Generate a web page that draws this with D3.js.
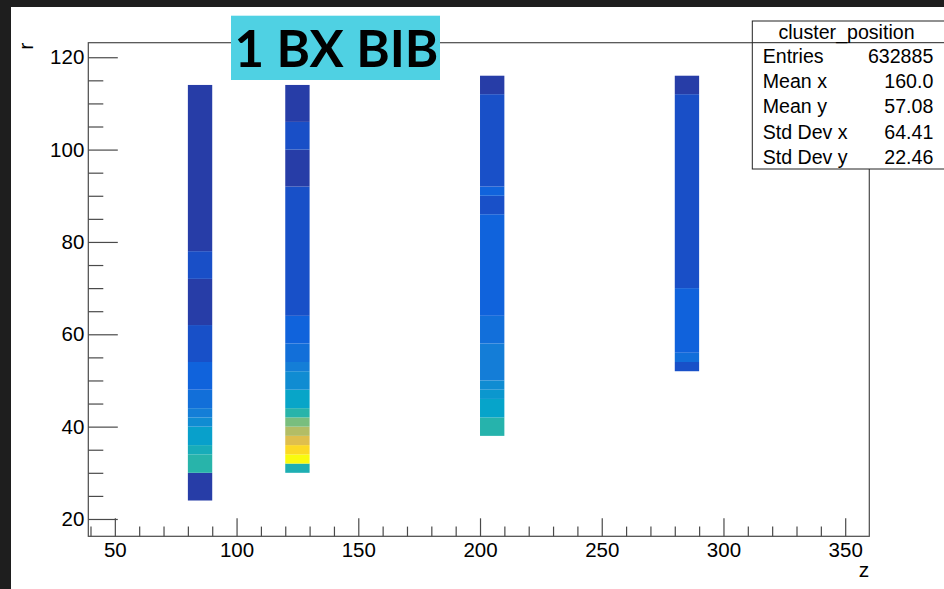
<!DOCTYPE html>
<html>
<head>
<meta charset="utf-8">
<script src="https://cdn.jsdelivr.net/npm/d3@7"></script>
<style>
  html, body { margin: 0; padding: 0; background: #ffffff; }
  svg { display: block; }
  .tick text { font-family: "Liberation Sans", Arial, Helvetica, sans-serif; }
</style>
</head>
<body>
<svg id="chart" width="944" height="589"></svg>
<script>
// ---- histogram content: cluster_position (r vs z), 10 x 2 bins ----
const zLowEdges = [80, 120, 200, 280];      // lower z edge of each filled column
const zBinWidth = 10;

// r bin edges and the count per 2-unit r bin inside each run
const rEdgesCol1 = [24, 30, 34, 36, 40, 42, 44, 48, 54, 62, 72, 78, 114];
const countsCol1 = [1850, 19200, 17200, 14400, 11600, 9600, 7600, 6000, 3760, 1850, 3700, 1850];

const rEdgesCol2 = [30, 32, 34, 36, 38, 40, 42, 44, 48, 52, 54, 58, 64, 92, 100, 106, 114];
const countsCol2 = [18000, 40000, 36800, 31600, 28000, 24200, 19200, 15200, 11600, 9600, 7600, 6000, 3760, 1850, 3700, 1850];

const rEdgesCol3 = [38, 42, 46, 48, 50, 58, 64, 86, 90, 92, 112, 116];
const countsCol3 = [19000, 15000, 13200, 11500, 9500, 7500, 5900, 3750, 6000, 3750, 1850];

const rEdgesCol4 = [52, 54, 56, 70, 112, 116];
const countsCol4 = [3800, 7400, 5800, 3700, 1850];

const zMajorTicks = [50, 100, 150, 200, 250, 300, 350];
const rMajorTicks = [20, 40, 60, 80, 100, 120];

const histTitle = "cluster_position";
const statsLabels = ["Entries", "Mean x", "Mean y", "Std Dev x", "Std Dev y"];
const statsValues = ["632885", "160.0", "57.08", "64.41", "22.46"];
const bannerText = "1 BX BIB";

// ---- assemble cells ----
const columns = [
  { edges: rEdgesCol1, counts: countsCol1 },
  { edges: rEdgesCol2, counts: countsCol2 },
  { edges: rEdgesCol3, counts: countsCol3 },
  { edges: rEdgesCol4, counts: countsCol4 }
];
const cells = [];
columns.forEach((col, i) => {
  col.counts.forEach((c, j) => {
    cells.push({ z0: zLowEdges[i], z1: zLowEdges[i] + zBinWidth, r0: col.edges[j], r1: col.edges[j + 1], count: c });
  });
});

// ---- layout ----
const svg = d3.select("#chart");
const W = 944, H = 589;
const frame = { left: 88.3, right: 869.3, top: 42.7, bottom: 536.3 };

const x = d3.scaleLinear().domain([39.1, 359.9]).range([frame.left, frame.right]);
const y = d3.scaleLinear().domain([16.25, 123.15]).range([frame.bottom, frame.top]);

// kBird palette
const birdStops = ["#352a87", "#0f5cdd", "#1481d6", "#06a4ca", "#2eb7a4", "#87bf77", "#d1bb59", "#fec832", "#f9fb0e"];
const zMax = d3.max(cells, d => d.count);
const color = d3.scaleLinear()
  .domain(birdStops.map((_, i) => i / (birdStops.length - 1) * zMax))
  .range(birdStops)
  .interpolate(d3.interpolateRgb)
  .clamp(true);

svg.append("rect").attr("width", W).attr("height", H).attr("fill", "#ffffff");

// cells
svg.append("g").selectAll("rect").data(cells).join("rect")
  .attr("x", d => x(d.z0))
  .attr("width", d => x(d.z1) - x(d.z0))
  .attr("y", d => y(d.r1))
  .attr("height", d => y(d.r0) - y(d.r1))
  .attr("fill", d => color(d.count));

// frame
svg.append("rect")
  .attr("x", frame.left).attr("y", frame.top)
  .attr("width", frame.right - frame.left).attr("height", frame.bottom - frame.top)
  .attr("fill", "none").attr("stroke", "#4a4a4a").attr("stroke-width", 1.2);

// minor tick values
const zMinor = d3.range(40, 360, 10).filter(v => v % 50 !== 0);
const rMinor = d3.range(20, 124, 5).filter(v => v % 20 !== 0);

const fontFam = '"Liberation Sans", Arial, Helvetica, sans-serif';

// x axis
const gx = svg.append("g").attr("transform", `translate(0,${frame.bottom})`);
gx.call(d3.axisBottom(x).tickValues(zMajorTicks).tickSize(-18).tickSizeOuter(0).tickPadding(5).tickFormat(d3.format("d")));
const gxm = svg.append("g").attr("transform", `translate(0,${frame.bottom})`);
gxm.call(d3.axisBottom(x).tickValues(zMinor).tickSize(-9.7).tickSizeOuter(0).tickFormat(""));

// y axis
const gy = svg.append("g").attr("transform", `translate(${frame.left},0)`);
gy.call(d3.axisLeft(y).tickValues(rMajorTicks).tickSize(-29.5).tickSizeOuter(0).tickPadding(4).tickFormat(d3.format("d")));
const gym = svg.append("g").attr("transform", `translate(${frame.left},0)`);
gym.call(d3.axisLeft(y).tickValues(rMinor).tickSize(-15).tickSizeOuter(0).tickFormat(""));

[gx, gxm, gy, gym].forEach(g => {
  g.select(".domain").remove();
  g.selectAll(".tick line").attr("stroke", "#4a4a4a").attr("stroke-width", 1.2);
  g.selectAll(".tick text").attr("fill", "#000").style("font-size", "20.5px").style("font-family", fontFam);
});
gx.selectAll(".tick text").attr("dy", "0.75em");

// axis titles
svg.append("text").attr("x", frame.right).attr("y", 577)
  .attr("text-anchor", "end").style("font-family", fontFam).style("font-size", "21px").text("z");
svg.append("text").attr("transform", `translate(33,${frame.top}) rotate(-90)`)
  .attr("text-anchor", "end").style("font-family", fontFam).style("font-size", "21px").text("r");

// statistics box
const sb = { x: 752.3, y: 21, w: 200, h: 148, head: 21.7 };
const statFont = "19.6px";
svg.append("rect").attr("x", sb.x).attr("y", sb.y).attr("width", sb.w).attr("height", sb.h)
  .attr("fill", "#fff").attr("stroke", "#222").attr("stroke-width", 1);
svg.append("line").attr("x1", sb.x).attr("x2", sb.x + sb.w).attr("y1", sb.y + sb.head).attr("y2", sb.y + sb.head)
  .attr("stroke", "#222").attr("stroke-width", 1);
svg.append("text").attr("x", 846.5).attr("y", sb.y + 17.5)
  .attr("text-anchor", "middle").style("font-family", fontFam).style("font-size", statFont).text(histTitle);
const rowH = (sb.h - sb.head) / statsLabels.length;
statsLabels.forEach((lab, i) => {
  const yy = sb.y + sb.head + rowH * (i + 0.5) + 7.5;
  svg.append("text").attr("x", 762.7).attr("y", yy).style("font-family", fontFam).style("font-size", statFont).text(lab);
  svg.append("text").attr("x", 933.3).attr("y", yy).attr("text-anchor", "end").style("font-family", fontFam).style("font-size", statFont).text(statsValues[i]);
});

// banner label
svg.append("rect").attr("x", 231).attr("y", 15.7).attr("width", 209).attr("height", 64.3).attr("fill", "#4fd1e3");
svg.append("text").attr("x", 336.5).attr("y", 66.5).attr("text-anchor", "middle")
  .style("font-family", "Lato, 'Open Sans', sans-serif").style("font-weight", "bold").style("font-size", "51px")
  .attr("fill", "#000").text(bannerText);

// window edge
svg.append("rect").attr("x", 0).attr("y", 0).attr("width", W).attr("height", 7).attr("fill", "#1e1e1e");
svg.append("rect").attr("x", 0).attr("y", 0).attr("width", 11).attr("height", H).attr("fill", "#1e1e1e");
</script>
</body>
</html>
